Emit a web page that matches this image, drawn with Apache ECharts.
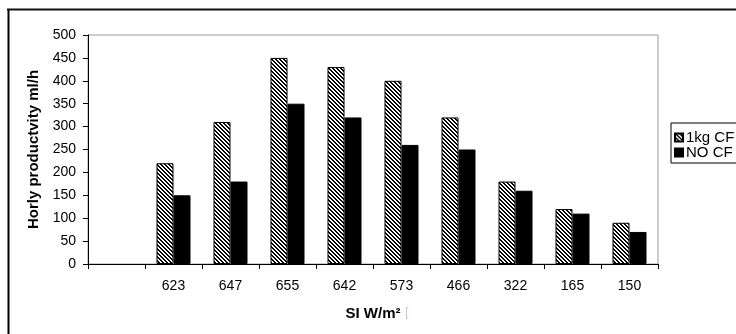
<!DOCTYPE html>
<html>
<head>
<meta charset="utf-8">
<script src="https://cdn.jsdelivr.net/npm/echarts@6/dist/echarts.min.js"></script>
<style>
  html, body { margin: 0; padding: 0; background: #fff; }
  #chart { width: 736px; height: 334px; }
</style>
</head>
<body>
<div id="chart"></div>
<script>
// Solar intensity categories (first slot left empty)
const categories = ['', '623', '647', '655', '642', '573', '466', '322', '165', '150'];
const withCF = [null, 220, 310, 450, 430, 400, 320, 180, 120, 90];
const noCF = [null, 150, 180, 350, 320, 260, 250, 160, 110, 70];
const yTicks = { min: 0, max: 500, interval: 50 };

// Diagonal hatch tile for the "1kg CF" bars
function hatchPattern() {
  const c = document.createElement('canvas');
  c.width = 4; c.height = 4;
  const g = c.getContext('2d');
  g.fillStyle = '#fff';
  g.fillRect(0, 0, 4, 4);
  g.fillStyle = '#000';
  for (let i = 0; i < 4; i++) {
    g.fillRect(i, i, 1, 1);
    g.fillRect((i + 1) % 4, i, 1, 1);
  }
  return { image: c, repeat: 'repeat' };
}

const font = 'Liberation Sans, Arial, sans-serif';
const chart = echarts.init(document.getElementById('chart'), null, { renderer: 'canvas' });

chart.setOption({
  animation: false,
  backgroundColor: '#fff',
  grid: {
    left: 88, right: 78, top: 35, bottom: 70,
    show: true, borderColor: '#999', borderWidth: 1
  },
  legend: {
    orient: 'vertical',
    left: 671, top: 123,
    itemWidth: 8, itemHeight: 8, itemGap: 0,
    padding: [7, 6, 3, 3],
    borderColor: '#000', borderWidth: 1,
    icon: 'rect',
    textStyle: { fontFamily: font, fontSize: 15, lineHeight: 15, color: '#000', padding: [0, 0, 0, -2] },
    data: ['1kg CF', 'NO CF']
  },
  xAxis: {
    type: 'category',
    data: categories,
    name: 'SI W/m²',
    nameLocation: 'middle',
    nameGap: 42,
    nameTextStyle: { fontFamily: font, fontSize: 15, fontWeight: 'bold', color: '#000' },
    axisLine: { lineStyle: { color: '#000', width: 1 } },
    axisTick: { show: true, length: 5, lineStyle: { color: '#000' } },
    axisLabel: { fontFamily: font, fontSize: 14, color: '#000', margin: 15 },
    splitLine: { show: false }
  },
  yAxis: {
    type: 'value',
    min: yTicks.min, max: yTicks.max, interval: yTicks.interval,
    name: 'Horly productvity ml/h',
    nameLocation: 'middle',
    nameGap: 46,
    nameTextStyle: { fontFamily: font, fontSize: 15, fontWeight: 'bold', color: '#000' },
    axisLine: { show: true, lineStyle: { color: '#000', width: 1 } },
    axisTick: { show: true, length: 5, lineStyle: { color: '#000' } },
    axisLabel: { fontFamily: font, fontSize: 14, color: '#000', margin: 12 },
    splitLine: { show: false }
  },
  series: [
    {
      name: '1kg CF', type: 'bar', data: withCF,
      barWidth: 17, barGap: '0%',
      itemStyle: { color: hatchPattern(), borderColor: '#000', borderWidth: 1 }
    },
    {
      name: 'NO CF', type: 'bar', data: noCF,
      barWidth: 17,
      itemStyle: { color: '#000', borderColor: '#000', borderWidth: 1 }
    }
  ],
  graphic: [
    { type: 'line', shape: { x1: 8.5, y1: 9, x2: 8.5, y2: 334 }, style: { stroke: '#000', lineWidth: 2 } },
    { type: 'line', shape: { x1: 7, y1: 9.5, x2: 736, y2: 9.5 }, style: { stroke: '#111', lineWidth: 2 } },
    { type: 'text', left: 405, top: 306, style: { text: '[', font: '13px ' + font, fill: '#ccc' } }
  ]
});
</script>
</body>
</html>
